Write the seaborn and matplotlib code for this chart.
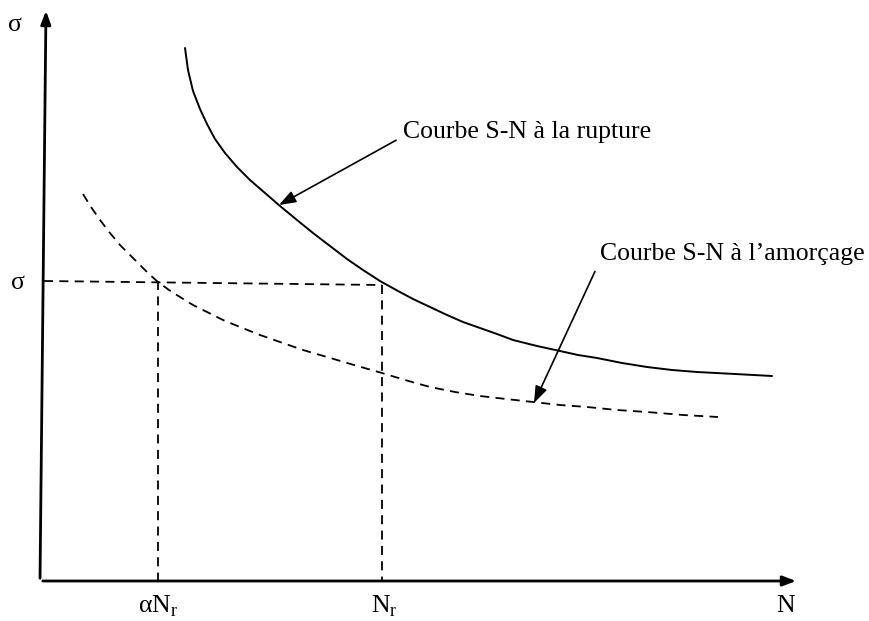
import numpy as np
import pandas as pd
import matplotlib
matplotlib.use("Agg")
import matplotlib.pyplot as plt
import seaborn as sns

# values (pixel-like units, y grows downward)
rupture_x = [185, 188, 193, 200, 207, 215, 225, 237, 250, 265, 280, 297, 313, 330, 347, 363, 380, 398,
             413, 430, 447, 463, 480, 497, 513, 537, 560, 578, 597, 622, 647, 672, 697, 735, 772]
rupture_y = [48, 70, 91, 109, 124, 139, 153, 167, 180, 193, 206, 220, 233, 246, 259, 270, 281, 291,
             299, 307, 315, 322, 328, 334, 340, 346, 351, 355, 358, 363, 367, 370, 372, 374, 376]

amorcage_x = [83, 91, 100, 110, 120, 130, 140, 149, 158, 169, 180, 193, 207, 223, 240, 260, 280, 303, 327,
              354, 382, 405, 430, 455, 480, 506, 533, 560, 587, 617, 647, 683, 718]
amorcage_y = [194, 207, 220, 233, 245, 255, 265, 274, 282, 290, 297, 305, 312, 320, 327, 335, 342, 350, 357,
              365, 373, 380, 387, 392, 396, 399, 402, 405, 407, 410, 412, 415, 417]

sigma_level = 281
n_alpha = 158
n_r = 382

curves = pd.concat([
    pd.DataFrame({"N": rupture_x, "S": rupture_y, "courbe": "rupture"}),
    pd.DataFrame({"N": amorcage_x, "S": amorcage_y, "courbe": "amorcage"}),
])

sns.set_style("white")
plt.rcParams["font.family"] = ["Liberation Serif", "DejaVu Serif"]
plt.rcParams["text.color"] = "black"

fig = plt.figure(figsize=(8.69, 6.21), dpi=100)
ax = fig.add_axes([0, 0, 1, 1])
ax.set_xlim(0, 869)
ax.set_ylim(621, 0)
ax.axis("off")

dash = (0, (5, 3.5))
sns.lineplot(data=curves[curves.courbe == "rupture"], x="N", y="S", color="black",
             lw=1.4, sort=False, ax=ax)
sns.lineplot(data=curves[curves.courbe == "amorcage"], x="N", y="S", color="black",
             lw=1.3, sort=False, ax=ax, linestyle=dash)

# axes with arrows
ax.annotate("", xy=(46, 8), xytext=(40, 581),
            arrowprops=dict(arrowstyle="-|>,head_length=0.8,head_width=0.3", color="black", lw=2))
ax.annotate("", xy=(799, 581), xytext=(40, 581),
            arrowprops=dict(arrowstyle="-|>,head_length=0.8,head_width=0.3", color="black", lw=2))

# guide lines
ax.plot([44, n_r], [sigma_level, sigma_level + 4], color="black", lw=1.3, linestyle=dash)
ax.plot([n_alpha, n_alpha], [sigma_level, 581], color="black", lw=1.3, linestyle=dash)
ax.plot([n_r, n_r], [sigma_level + 4, 581], color="black", lw=1.3, linestyle=dash)

fs = 18.5
ax.text(15, 25, "σ", fontsize=fs, ha="center", va="center")
ax.text(18, 283, "σ", fontsize=fs, ha="center", va="center")
ax.text(n_alpha, 606, r"αN$_\mathregular{r}$", fontsize=fs, ha="center", va="center")
ax.text(n_r + 2, 606, r"N$_\mathregular{r}$", fontsize=fs, ha="center", va="center")
ax.text(786, 606, "N", fontsize=fs, ha="center", va="center")

ax.annotate("Courbe S-N à la rupture", xy=(279, 205), xytext=(403, 132),
            fontsize=fs, ha="left", va="center",
            arrowprops=dict(arrowstyle="-|>,head_length=0.55,head_width=0.2",
                            color="black", lw=1.2, shrinkA=3, shrinkB=0,
                            relpos=(0, 0.3)))
ax.annotate("Courbe S-N à l’amorçage", xy=(534, 403), xytext=(600, 254),
            fontsize=fs, ha="left", va="center",
            arrowprops=dict(arrowstyle="-|>,head_length=0.55,head_width=0.2",
                            color="black", lw=1.2, shrinkA=3, shrinkB=0,
                            relpos=(0, 0.2)))

fig.savefig("out.png", dpi=100)
